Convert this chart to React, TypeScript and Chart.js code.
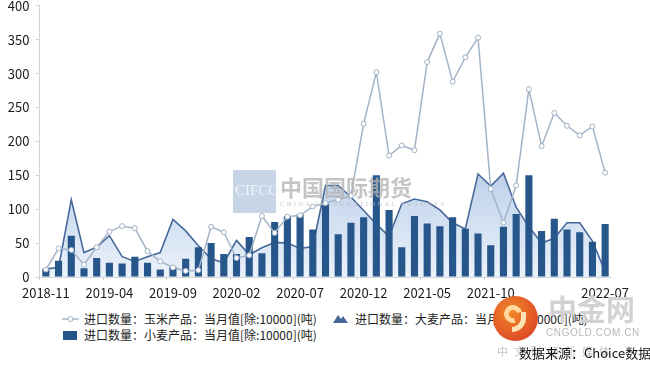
import React, { useEffect, useRef } from "react";
import { Chart, registerables } from "chart.js";

Chart.register(...registerables);

const months = [
  "2018-11", "2018-12", "2019-01", "2019-02", "2019-03", "2019-04", "2019-05", "2019-06",
  "2019-07", "2019-08", "2019-09", "2019-10", "2019-11", "2019-12", "2020-01", "2020-02",
  "2020-03", "2020-04", "2020-05", "2020-06", "2020-07", "2020-08", "2020-09", "2020-10",
  "2020-11", "2020-12", "2021-01", "2021-02", "2021-03", "2021-04", "2021-05", "2021-06",
  "2021-07", "2021-08", "2021-09", "2021-10", "2021-11", "2021-12", "2022-01", "2022-02",
  "2022-03", "2022-04", "2022-05", "2022-06", "2022-07",
];

const cornValues = [
  11, 42, 40, 18, 44, 67, 75, 72, 38, 23, 14, 9, 10, 74, 66, 28, 32, 90, 65, 89, 91, 104, 109,
  114, 120, 226, 302, 179, 194, 187, 317, 359, 288, 324, 353, 130, 80, 135, 277, 193, 242, 223,
  209, 222, 154,
];

const barleyValues = [
  12, 14, 114, 36, 44, 61, 30, 23, 30, 36, 85, 68, 46, 27, 21, 54, 33, 43, 51, 50, 42, 45, 135,
  135, 118, 98, 78, 60, 108, 115, 111, 99, 80, 71, 152, 134, 153, 103, 74, 50, 57, 80, 80, 53, 8,
];

const wheatValues = [
  12, 24, 61, 13, 28, 21, 20, 30, 21, 11, 15, 27, 44, 50, 34, 34, 59, 35, 81, 90, 92, 70, 108,
  63, 80, 88, 150, 99, 44, 90, 79, 75, 88, 71, 64, 47, 74, 93, 150, 68, 86, 70, 66, 52, 78,
];

const cornLabel = "进口数量：玉米产品：当月值[除:10000](吨)";
const barleyLabel = "进口数量：大麦产品：当月值[除:10000](吨)";
const wheatLabel = "进口数量：小麦产品：当月值[除:10000](吨)";
const sourceText = "数据来源：Choice数据";

const yMin = 0;
const yMax = 400;
const yStep = 50;

const FONT = '"Noto Sans CJK SC", "Noto Sans", sans-serif';

const showTick = (i: number) => (i % 5 === 0 && i !== 40) || i === months.length - 1;

export default function App() {
  const canvasRef = useRef<HTMLCanvasElement | null>(null);

  useEffect(() => {
    const canvas = canvasRef.current;
    if (!canvas) return;
    const chart = new Chart(canvas, {
      type: "bar",
      data: {
        labels: months,
        datasets: [
          {
            type: "line",
            label: cornLabel,
            data: cornValues,
            borderColor: "#a3b4c7",
            borderWidth: 1.5,
            pointRadius: 2.5,
            pointBackgroundColor: "#ffffff",
            pointBorderColor: "#9fb1c5",
            pointBorderWidth: 1,
            tension: 0,
            fill: false,
            order: 0,
          },
          {
            type: "bar",
            label: wheatLabel,
            data: wheatValues,
            backgroundColor: "#27568b",
            categoryPercentage: 1,
            barPercentage: 0.56,
            order: 1,
          },
          {
            type: "line",
            label: barleyLabel,
            data: barleyValues,
            borderColor: "#46699a",
            borderWidth: 1.6,
            pointRadius: 0,
            tension: 0,
            fill: "origin",
            backgroundColor: (ctx: any) => {
              const c = ctx.chart;
              const area = c.chartArea;
              if (!area) return "rgba(200,215,235,0.6)";
              const ys = c.scales.y;
              const g = c.ctx.createLinearGradient(0, ys.getPixelForValue(160), 0, ys.getPixelForValue(0));
              g.addColorStop(0, "rgba(184,205,233,0.95)");
              g.addColorStop(1, "rgba(234,241,250,0.95)");
              return g;
            },
            order: 2,
          },
        ] as any,
      },
      options: {
        animation: false,
        responsive: true,
        maintainAspectRatio: false,
        layout: { padding: { top: 0, right: 38.5, left: 0, bottom: 0 } },
        plugins: {
          legend: { display: false },
          tooltip: { enabled: false },
        },
        scales: {
          x: {
            afterFit: (s: any) => {
              s.height = 28;
            },
            grid: {
              display: true,
              drawOnChartArea: false,
              drawTicks: true,
              tickLength: 3,
              color: (ctx: any) => (showTick(ctx.index) ? "#cfcfcf" : "rgba(0,0,0,0)"),
            },
            border: { display: true, color: "#d4d4d4", width: 1 },
            ticks: {
              autoSkip: false,
              maxRotation: 0,
              minRotation: 0,
              padding: 5,
              color: "#1a1a1a",
              font: { family: FONT, size: 13 },
              callback: (_v: any, i: number) => (showTick(i) ? months[i] : ""),
            },
          },
          y: {
            min: yMin,
            max: yMax,
            afterFit: (s: any) => {
              s.width = 39.5;
            },
            grid: {
              display: true,
              drawOnChartArea: false,
              drawTicks: true,
              tickLength: 4,
              color: "#d4d4d4",
            },
            border: { display: true, color: "#d4d4d4", width: 1 },
            ticks: {
              stepSize: yStep,
              padding: 6,
              color: "#1a1a1a",
              font: { family: FONT, size: 13 },
            },
          },
        },
      } as any,
    });
    return () => chart.destroy();
  }, []);

  const legendText: React.CSSProperties = {
    position: "absolute",
    fontFamily: FONT,
    fontSize: 12,
    lineHeight: "16px",
    color: "#222",
    whiteSpace: "nowrap",
  };

  return (
    <div
      style={{
        position: "absolute",
        left: 0,
        top: 0,
        width: 650,
        height: 368,
        background: "#ffffff",
        overflow: "hidden",
      }}
    >
      <div style={{ position: "absolute", left: 0, top: -8, width: 650, height: 313 }}>
        <canvas ref={canvasRef} />
      </div>

      {/* watermark */}
      <div
        style={{
          position: "absolute",
          left: 233,
          top: 170,
          width: 43,
          height: 43,
          background: "rgba(190,206,226,0.85)",
          pointerEvents: "none",
        }}
      />
      <div
        style={{
          position: "absolute",
          left: 235,
          top: 182,
          fontFamily: '"Liberation Serif", serif',
          fontSize: 15,
          color: "rgba(240,244,250,0.95)",
          letterSpacing: 0,
          pointerEvents: "none",
        }}
      >
        CIFCO
      </div>
      <div
        style={{
          position: "absolute",
          left: 280,
          top: 172,
          fontFamily: FONT,
          fontSize: 22,
          fontWeight: 700,
          lineHeight: "28px",
          color: "rgba(180,180,180,0.78)",
          whiteSpace: "nowrap",
          pointerEvents: "none",
        }}
      >
        中国国际期货
      </div>
      <div
        style={{
          position: "absolute",
          left: 280,
          top: 200,
          fontFamily: '"Liberation Serif", serif',
          fontSize: 7,
          letterSpacing: 2,
          color: "rgba(190,190,190,0.8)",
          whiteSpace: "nowrap",
          pointerEvents: "none",
        }}
      >
        CHINA INTERNATIONAL FUTURES
      </div>

      {/* legend */}
      <svg style={{ position: "absolute", left: 62, top: 313 }} width={18} height={12}>
        <line x1={0} y1={6} x2={17} y2={6} stroke="#a3b4c7" strokeWidth={1.5} />
        <circle cx={8.5} cy={6} r={2.5} fill="#fff" stroke="#9fb1c5" strokeWidth={1} />
      </svg>
      <div style={{ ...legendText, left: 84, top: 311 }}>{cornLabel}</div>

      <svg style={{ position: "absolute", left: 333, top: 312 }} width={16} height={12}>
        <polygon points="0,11 5,3 8,7 10,4 15,11" fill="#46699a" />
      </svg>
      <div style={{ ...legendText, left: 355, top: 311 }}>{barleyLabel}</div>

      <div
        style={{
          position: "absolute",
          left: 63,
          top: 331,
          width: 14,
          height: 9,
          background: "#27568b",
        }}
      />
      <div style={{ ...legendText, left: 84, top: 327 }}>{wheatLabel}</div>

      {/* CNGOLD mark */}
      <div
        style={{
          position: "absolute",
          left: 548,
          top: 290,
          fontFamily: FONT,
          fontSize: 29,
          fontWeight: 700,
          lineHeight: "36px",
          color: "#d2d2d2",
          whiteSpace: "nowrap",
        }}
      >
        中金网
      </div>
      <div
        style={{
          position: "absolute",
          left: 546,
          top: 327,
          fontFamily: '"Liberation Sans", sans-serif',
          fontSize: 10,
          letterSpacing: 0.6,
          color: "#b8b8b8",
          whiteSpace: "nowrap",
        }}
      >
        CNGOLD.COM.CN
      </div>
      <div
        style={{
          position: "absolute",
          left: 497,
          top: 343,
          fontFamily: FONT,
          fontSize: 11,
          letterSpacing: 6,
          color: "#c4c4c4",
          whiteSpace: "nowrap",
        }}
      >
        中文财经新媒体
      </div>
      <div
        style={{
          position: "absolute",
          left: 493,
          top: 296,
          width: 45,
          height: 45,
          borderRadius: "50%",
          background: "radial-gradient(circle at 40% 35%, #f08a2a 0%, #e45a26 55%, #d23a24 100%)",
        }}
      >
        <div
          style={{
            position: "absolute",
            left: 11,
            top: 9,
            width: 18,
            height: 18,
            borderRadius: "50%",
            border: "5px solid #ffd9a0",
            borderRightColor: "transparent",
            transform: "rotate(30deg)",
            boxSizing: "border-box",
          }}
        />
        <div
          style={{
            position: "absolute",
            left: 19,
            top: 16,
            width: 14,
            height: 20,
            borderRadius: "0 0 14px 0",
            borderRight: "5px solid #ffe3b5",
            borderBottom: "5px solid #ffe3b5",
            boxSizing: "border-box",
          }}
        />
      </div>

      <div
        style={{
          position: "absolute",
          left: 519,
          top: 344,
          fontFamily: FONT,
          fontSize: 13,
          lineHeight: "18px",
          color: "#111",
          whiteSpace: "nowrap",
        }}
      >
        {sourceText}
      </div>
    </div>
  );
}
